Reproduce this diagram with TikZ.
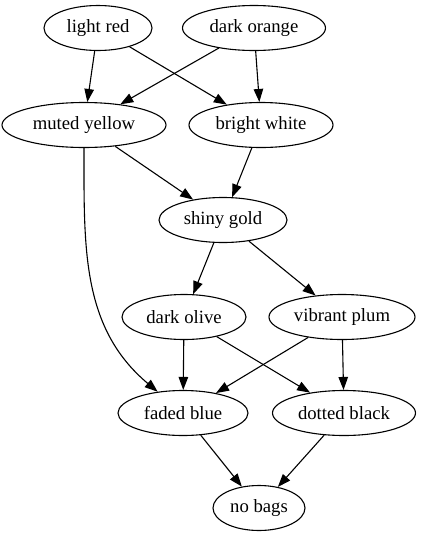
\documentclass[tikz,border=0pt]{standalone}
\usepackage{fontspec}
\setmainfont{Liberation Serif}
\usetikzlibrary{shapes.geometric,arrows.meta}

\begin{document}
\begin{tikzpicture}[x=1pt,y=-1pt,
    bag/.style={draw, ellipse, line width=1.1pt, inner sep=0pt, minimum height=45pt,
      font=\fontsize{18.7}{20}\selectfont},
    every path/.style={line width=1.1pt},
    >={Triangle[length=13pt,width=9.5pt]}]
          \useasboundingbox (0,0) rectangle (426,539);
          % Nodes
          \node[bag, minimum width=108pt] (lightred) at (98,28) {light red};
          \node[bag, minimum width=143pt] (darkorange) at (254,28) {dark orange};
          \node[bag, minimum width=164pt] (mutedyellow) at (84,125) {muted yellow};
          \node[bag, minimum width=144pt] (brightwhite) at (261,125) {bright white};
          \node[bag, minimum width=128pt] (shinygold) at (223,220) {shiny gold};
          \node[bag, minimum width=124pt] (darkolive) at (184,317) {dark olive};
          \node[bag, minimum width=146pt] (vibrantplum) at (342,317) {vibrant plum};
          \node[bag, minimum width=130pt] (fadedblue) at (183,413) {faded blue};
          \node[bag, minimum width=143pt] (dottedblack) at (344,413) {dotted black};
          \node[bag, minimum width=92pt] (nobags) at (259,508) {no bags};

          % Arrows
          \draw[->] (lightred) -- (mutedyellow);
          \draw[->] (lightred) -- (brightwhite);
          \draw[->] (darkorange) -- (mutedyellow);
          \draw[->] (darkorange) -- (brightwhite);
          \draw[->] (mutedyellow) -- (shinygold);
          \draw[->] (mutedyellow) to[out=-90, in=140] (fadedblue);
          \draw[->] (brightwhite) -- (shinygold);
          \draw[->] (shinygold) -- (darkolive);
          \draw[->] (shinygold) -- (vibrantplum);
          \draw[->] (darkolive) -- (fadedblue);
          \draw[->] (darkolive) -- (dottedblack);
          \draw[->] (vibrantplum) -- (fadedblue);
          \draw[->] (vibrantplum) -- (dottedblack);
          \draw[->] (fadedblue) -- (nobags);
          \draw[->] (dottedblack) -- (nobags);
        \end{tikzpicture}
\end{document}
